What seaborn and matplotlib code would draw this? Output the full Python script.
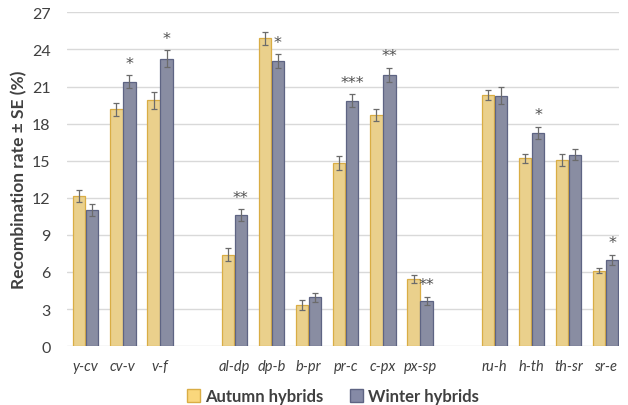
import numpy as np
import pandas as pd
import matplotlib
matplotlib.use("Agg")
import matplotlib.pyplot as plt
import seaborn as sns
from matplotlib.patches import Patch
from matplotlib.container import BarContainer

# Data
intervals = ['y-cv', 'cv-v', 'v-f',
             'al-dp', 'dp-b', 'b-pr', 'pr-c', 'c-px', 'px-sp',
             'ru-h', 'h-th', 'th-sr', 'sr-e']
autumn = [12.15, 19.15, 19.9, 7.4, 24.9, 3.3, 14.8, 18.7, 5.4, 20.3, 15.2, 15.05, 6.1]
autumn_se = [0.5, 0.55, 0.7, 0.5, 0.5, 0.4, 0.55, 0.45, 0.32, 0.42, 0.35, 0.5, 0.2]
winter = [11.0, 21.4, 23.25, 10.6, 23.05, 3.95, 19.85, 21.95, 3.65, 20.25, 17.25, 15.5, 7.0]
winter_se = [0.5, 0.5, 0.7, 0.5, 0.57, 0.38, 0.54, 0.58, 0.35, 0.68, 0.5, 0.48, 0.4]
signif = ['', '*', '*', '**', '*', '', '***', '**', '**', '', '*', '', '*']
# blank slots separate the three chromosome groups
order = ['y-cv', 'cv-v', 'v-f', ' ',
         'al-dp', 'dp-b', 'b-pr', 'pr-c', 'c-px', 'px-sp', '  ',
         'ru-h', 'h-th', 'th-sr', 'sr-e']
groups = ['Autumn hybrids', 'Winter hybrids']

fill_colors = ['#fad77c', '#858aa6']
edge_colors = ['#d9ad45', '#5e6483']

df = pd.DataFrame({
    'interval': intervals * 2,
    'rate': autumn + winter,
    'group': [groups[0]] * len(intervals) + [groups[1]] * len(intervals),
})

sns.set_theme(style='white')
plt.rcParams['font.family'] = ['Lato', 'DejaVu Sans']

fig = plt.figure(figsize=(6.28, 4.06), dpi=100)
ax = fig.add_axes([0.107, 0.145, 0.879, 0.822])

sns.barplot(data=df, x='interval', y='rate', hue='group', order=order,
            hue_order=groups, palette=fill_colors, width=0.7, gap=0.06,
            errorbar=None, legend=False, ax=ax, zorder=2)

bar_conts = [c for c in ax.containers if isinstance(c, BarContainer)]
ses = [autumn_se, winter_se]
vals = [autumn, winter]
for i, cont in enumerate(bar_conts):
    bars = sorted(list(cont), key=lambda b: b.get_x())
    xs = []
    for b in bars:
        b.set_edgecolor(edge_colors[i])
        b.set_linewidth(0.9)
        xs.append(b.get_x() + b.get_width() / 2)
    ax.errorbar(xs, vals[i], yerr=ses[i], fmt='none', ecolor='#6b6b6b',
                elinewidth=0.9, capsize=2.5, capthick=0.9, zorder=3)
    if i == 1:
        for x, v, s, star in zip(xs, winter, winter_se, signif):
            if star:
                ax.text(x, v + s + 0.95, star, ha='center', va='center',
                        fontsize=11.5, color='#505050', family='DejaVu Sans')

ax.set_ylim(0, 27)
ax.set_yticks(np.arange(0, 28, 3))
ax.set_xlim(-0.5, 14.36)
ax.yaxis.grid(True, color='#d9d9d9', linewidth=1, zorder=0)
ax.set_axisbelow(True)
for sp in ax.spines.values():
    sp.set_visible(False)

ax.tick_params(axis='y', labelsize=11.5, labelcolor='#404040', length=0, pad=12)
ax.tick_params(axis='x', labelsize=10.5, labelcolor='#404040', length=0, pad=9)
for lab in ax.get_xticklabels():
    lab.set_fontstyle('italic')

ax.set_xlabel('')
ax.set_ylabel('Recombination rate ± SE (%)', fontsize=12.5, fontweight='bold',
              color='#404040', labelpad=3)

handles = [Patch(facecolor=fill_colors[k], edgecolor=edge_colors[k], label=groups[k])
           for k in range(2)]
fig.legend(handles=handles, loc='lower center', bbox_to_anchor=(0.53, -0.035),
           ncol=2, frameon=False, handlelength=0.8, handleheight=0.8,
           handletextpad=0.3, columnspacing=1.6,
           prop={'weight': 'bold', 'size': 12})
for t in fig.legends[0].get_texts():
    t.set_color('#404040')

fig.savefig('out.png', dpi=100)
